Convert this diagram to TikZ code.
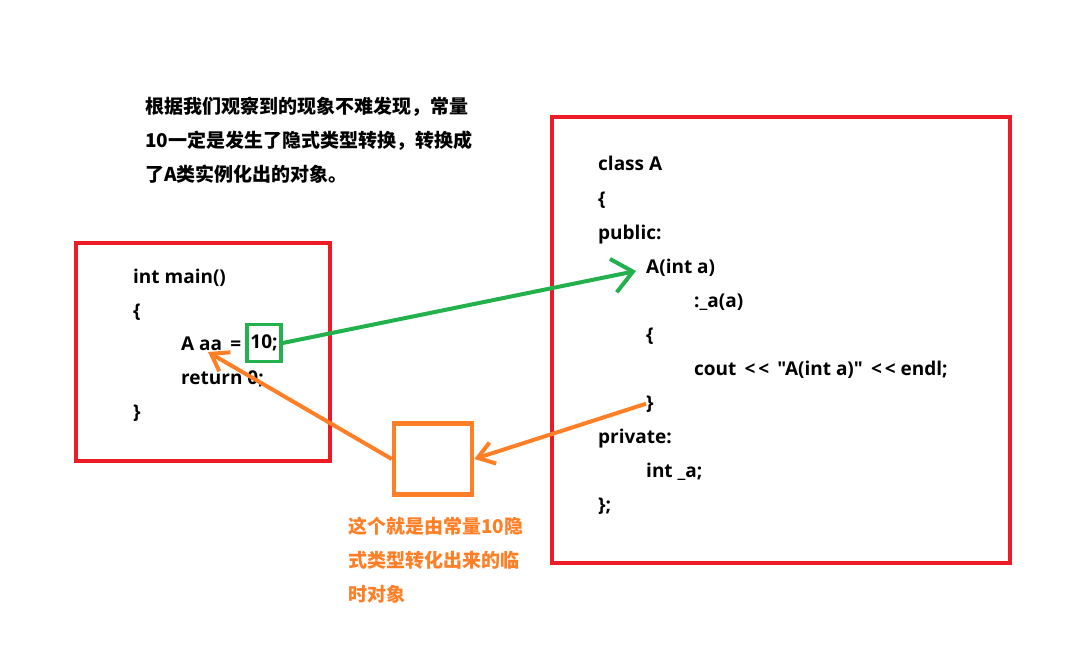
\documentclass[tikz,border=0pt]{standalone}
\usepackage{fontspec}
\setmainfont{Open Sans}[Ligatures=TeXOff]
\newfontfamily\cjk{Noto Sans CJK SC}
\usetikzlibrary{arrows.meta}

\definecolor{paintred}{HTML}{ED1C24}
\definecolor{paintgreen}{HTML}{22B14C}
\definecolor{paintorange}{HTML}{FF7F27}

\begin{document}
\begin{tikzpicture}[x=1pt,y=-1pt,
  code/.style={anchor=base west,inner sep=0pt,font=\bfseries\fontsize{19}{23}\selectfont},
  note/.style={anchor=base west,inner sep=0pt,align=left,font=\cjk\bfseries\fontsize{19}{34}\selectfont},
  redbox/.style={draw=paintred,line width=4pt},
  greenpen/.style={draw=paintgreen,line width=4pt,-{Straight Barb[length=20pt,width=34pt]}},
  orangepen/.style={draw=paintorange,line width=4pt,-{Straight Barb[length=16pt,width=22pt]}}]
  \useasboundingbox (0,0) rectangle (1092,658);

  % note above (anchored on its last line)
  \node[note] (remark) at (145,181) {根据我们观察到的现象不难发现，常量\\10一定是发生了隐式类型转换，转换成\\了A类实例化出的对象。};

  % main()
  \draw[redbox] (76,243) rectangle (330,461);
  \node[code] (mainhead) at (133,283) {int main()};
  \node[code] (mainopen) at (133,317) {\{};
  \node[code] (decl) at (181,350) {A aa \,=};
  \node[code,anchor=center,draw=paintgreen,line width=3.5pt,minimum width=34pt,minimum height=37pt,inner sep=1pt] (ten) at (264,343) {10;};
  \node[code] (ret) at (181,384) {return 0;};
  \node[code] (mainclose) at (133,418) {\}};

  % class A
  \draw[redbox] (552,117) rectangle (1010,563);
  \node[code] (cls) at (598,171) {class A};
  \node[code] (clsopen) at (598,205) {\{};
  \node[code] (pub) at (598,239) {public:};
  \node[code] (ctor) at (646,273) {A(int a)};
  \node[code] (init) at (694,307) {:\_a(a)};
  \node[code] (lbrace) at (646,341) {\{};
  \node[code] (cout) at (694,375) {cout \,<\kern3pt< \,"A(int a)" \,<\kern3pt< endl;};
  \node[code] (rbrace) at (646,409) {\}};
  \node[code] (priv) at (598,443) {private:};
  \node[code] (member) at (646,477) {int \_a;};
  \node[code] (clsclose) at (598,511) {\};};

  % temporary object
  \node[draw=paintorange,line width=4.5pt,minimum width=78pt,minimum height=71pt] (tmp) at (433,459) {};
  \node[note,text=paintorange] (tmpnote) at (348,601) {这个就是由常量10隐\\式类型转化出来的临\\时对象};

  \coordinate (ctortip) at (636,271);
  \coordinate (aatip) at (208,352);
  \draw[greenpen] (ten.east) -- (ctortip);
  \draw[orangepen] (tmp.west) -- (aatip);
  \draw[orangepen] (rbrace.west) -- (tmp.east);
\end{tikzpicture}
\end{document}
